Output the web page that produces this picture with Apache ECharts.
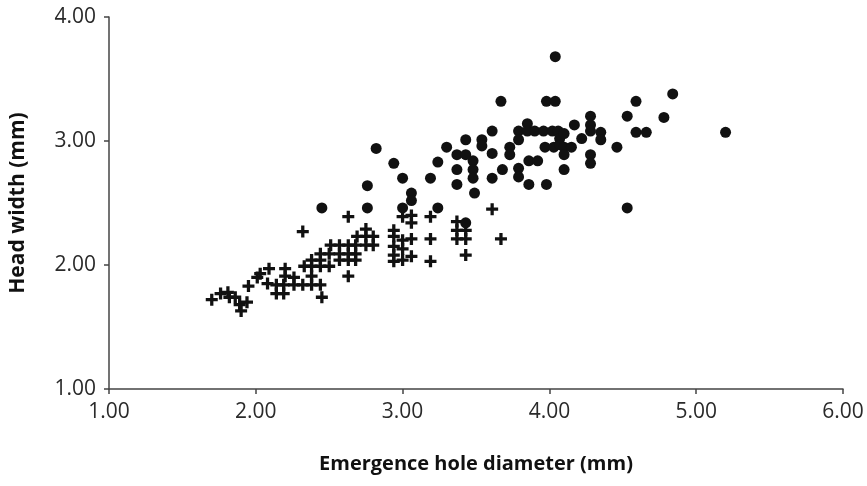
<!DOCTYPE html>
<html>
<head>
<meta charset="utf-8">
<script src="https://cdn.jsdelivr.net/npm/echarts@6/dist/echarts.min.js"></script>
<style>html,body{margin:0;padding:0;background:#fff}#c{width:867px;height:486px}</style>
</head>
<body>
<div id="c"></div>
<script>
// Dots series (x = emergence hole diameter, y = head width)
var dotX = [2.45,2.76,2.76,2.82,2.94,3.00,3.00,3.06,3.06,3.19,3.24,3.24,3.30,3.37,3.43,3.37,3.37,3.43,3.43,3.48,3.48,3.48,3.49,3.54,3.54,3.61,3.61,3.61,3.67,3.68,3.73,3.73,3.79,3.79,3.79,3.79,3.85,3.86,3.92,3.86,3.85,3.90,3.96,4.02,4.06,3.98,4.04,4.04,3.98,3.97,4.03,4.07,4.07,4.10,4.10,4.10,4.10,4.15,4.17,4.22,4.28,4.28,4.28,4.28,4.28,4.35,4.35,4.46,4.53,4.53,4.59,4.59,4.66,4.78,4.84,5.20];
var dotY = [2.46,2.46,2.64,2.94,2.82,2.70,2.46,2.58,2.52,2.70,2.83,2.46,2.95,2.89,2.89,2.77,2.65,3.01,2.34,2.84,2.77,2.70,2.58,3.01,2.96,3.08,2.90,2.70,3.32,2.77,2.95,2.89,3.08,3.01,2.78,2.71,3.14,2.84,2.84,2.65,3.08,3.08,3.08,3.08,3.08,3.32,3.32,3.68,2.65,2.95,2.95,3.02,2.97,2.95,2.89,2.77,3.06,2.95,3.13,3.02,3.20,3.13,3.08,2.89,2.82,3.07,3.01,2.95,3.20,2.46,3.32,3.07,3.07,3.19,3.38,3.07];
// Crosses series
var crossX = [1.70,1.76,1.81,1.82,1.86,1.89,1.90,1.94,1.95,2.01,2.03,2.09,2.08,2.14,2.19,2.14,2.19,2.20,2.20,2.26,2.26,2.32,2.33,2.32,2.38,2.38,2.38,2.44,2.44,2.44,2.45,2.51,2.50,2.50,2.57,2.57,2.57,2.63,2.63,2.63,2.63,2.63,2.68,2.68,2.68,2.75,2.69,2.75,2.75,2.80,2.80,2.94,2.94,2.94,2.94,2.94,3.00,3.00,3.00,3.00,3.06,3.06,3.06,3.06,3.19,3.19,3.19,3.37,3.37,3.37,3.43,3.43,3.43,3.61,3.67,2.44,2.38];
var crossY = [1.72,1.77,1.78,1.74,1.74,1.68,1.63,1.70,1.83,1.90,1.93,1.97,1.85,1.84,1.84,1.77,1.77,1.97,1.91,1.84,1.90,2.27,1.99,1.84,2.04,1.84,1.91,2.09,2.04,1.84,1.74,2.16,2.09,1.99,2.16,2.04,2.09,2.16,2.04,2.09,2.39,1.91,2.16,2.09,2.04,2.29,2.23,2.23,2.16,2.23,2.16,2.28,2.23,2.15,2.08,2.03,2.39,2.20,2.13,2.04,2.40,2.34,2.21,2.07,2.39,2.21,2.03,2.35,2.28,2.21,2.28,2.21,2.08,2.45,2.21,1.99,1.99];
var xTicks = [1,2,3,4,5,6];
var yTicks = [1,2,3,4];

function pairs(xs, ys){ var o=[]; for(var i=0;i<xs.length;i++) o.push([xs[i], ys[i]]); return o; }

var chart = echarts.init(document.getElementById('c'), null, {renderer:'canvas'});
var axisCol = '#444';
var fam = '"Open Sans", "Noto Sans", sans-serif';
var labelStyle = {color:'#2a2a2a', fontSize:21, fontFamily:fam, formatter:function(v){return v.toFixed(2);}};
chart.setOption({
  animation:false,
  backgroundColor:'#fff',
  grid:{left:108, right:24, top:17, bottom:97},
  xAxis:{
    type:'value', min:xTicks[0], max:xTicks[xTicks.length-1], interval:1,
    name:'Emergence hole diameter (mm)', nameLocation:'middle', nameGap:65,
    nameTextStyle:{color:'#111', fontSize:20, fontWeight:'bold', fontFamily:fam},
    axisLine:{show:true, lineStyle:{color:axisCol, width:1.5}},
    axisTick:{show:true, length:5, lineStyle:{color:axisCol, width:1.5}},
    axisLabel:Object.assign({margin:13}, labelStyle),
    splitLine:{show:false}
  },
  yAxis:{
    type:'value', min:yTicks[0], max:yTicks[yTicks.length-1], interval:1,
    name:'Head width (mm)', nameLocation:'middle', nameGap:80,
    nameTextStyle:{color:'#111', fontSize:21, fontWeight:'bold', fontFamily:fam},
    axisLine:{show:true, lineStyle:{color:axisCol, width:1.5}},
    axisTick:{show:true, length:5, lineStyle:{color:axisCol, width:1.5}},
    axisLabel:Object.assign({margin:13}, labelStyle),
    splitLine:{show:false}
  },
  series:[
    {type:'scatter', data:pairs(crossX, crossY), symbol:'path://M4,0H7V4H11V7H7V11H4V7H0V4H4Z', symbolSize:12,
     itemStyle:{color:'#111', opacity:1}},
    {type:'scatter', data:pairs(dotX, dotY), symbol:'circle', symbolSize:11,
     itemStyle:{color:'#111', opacity:1}}
  ]
});
</script>
</body>
</html>
